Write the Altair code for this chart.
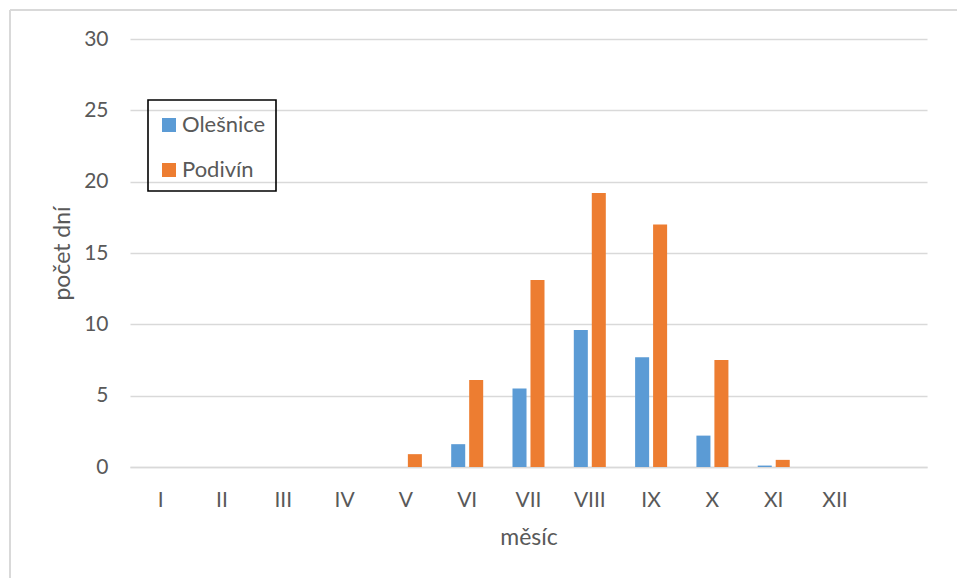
import altair as alt
import pandas as pd

# Monthly counts of days for two stations
months = ["I", "II", "III", "IV", "V", "VI", "VII", "VIII", "IX", "X", "XI", "XII"]
olesnice = [0, 0, 0, 0, 0, 1.6, 5.5, 9.6, 7.7, 2.2, 0.1, 0]
podivin = [0, 0, 0, 0, 0.9, 6.1, 13.1, 19.2, 17.0, 7.5, 0.5, 0]
stations = ["Olešnice", "Podivín"]
colors = ["#5B9BD5", "#ED7D31"]
y_ticks = [0, 5, 10, 15, 20, 25, 30]

rows = []
for m, a, b in zip(months, olesnice, podivin):
    rows.append({"month": m, "station": stations[0], "days": a})
    rows.append({"month": m, "station": stations[1], "days": b})
df = pd.DataFrame(rows)

FONT = "Lato"
TXT = "#595959"
GRID = "#d9d9d9"

W, H = 797, 428
PAD_L, PAD_T = 130, 39

bars = alt.Chart(df).mark_bar().encode(
    x=alt.X(
        "month:N",
        # one spare empty slot after December
        scale=alt.Scale(domain=months + [" "], paddingInner=0.478, paddingOuter=0.239),
        sort=None,
        axis=alt.Axis(
            title="měsíc",
            labelAngle=0,
            labelPadding=22,
            ticks=False,
            domainColor=GRID,
            domainWidth=1.5,
            titlePadding=16,
            titleFontSize=23,
        ),
    ),
    xOffset=alt.XOffset(
        "station:N",
        scale=alt.Scale(domain=stations, paddingInner=0.22, paddingOuter=0),
    ),
    y=alt.Y(
        "days:Q",
        scale=alt.Scale(domain=[0, 30], nice=False),
        axis=alt.Axis(
            title="počet dní",
            values=y_ticks,
            domain=False,
            ticks=False,
            labelPadding=22,
            gridColor=GRID,
            gridWidth=1.4,
            titlePadding=9,
            titleFontSize=23,
        ),
    ),
    color=alt.Color(
        "station:N",
        scale=alt.Scale(domain=stations, range=colors),
        legend=alt.Legend(
            # a blank, tiny title adds a little room above the entries
            title=" ",
            titleFontSize=2,
            titlePadding=2,
            orient="none",
            legendX=18,
            legendY=61,
            symbolType="square",
            symbolSize=196,
            symbolStrokeWidth=0,
            labelOffset=2,
            rowPadding=23,
            padding=10,
            strokeColor="black",
            labelFontSize=22,
            labelFont=FONT,
            labelColor=TXT,
        ),
    ),
)

# light frame along the top and left edges of the figure
frame_data = alt.Data(values=[{"k": 0}])
frame_left = alt.Chart(frame_data).mark_rule(color=GRID, strokeWidth=2).encode(
    x=alt.value(-120), y=alt.value(-29), y2=alt.value(H + 120)
)
frame_top = alt.Chart(frame_data).mark_rule(color=GRID, strokeWidth=2).encode(
    x=alt.value(-120), x2=alt.value(W + 40), y=alt.value(-29)
)

chart = (
    alt.layer(frame_left, frame_top, bars)
    .properties(
        width=W,
        height=H,
        padding={"left": PAD_L, "top": PAD_T, "right": 957 - PAD_L - W, "bottom": 578 - PAD_T - H},
        autosize=alt.AutoSizeParams(type="none"),
        background="white",
    )
    .configure_view(stroke=None)
    .configure_axis(
        labelFont=FONT,
        labelFontSize=21,
        labelColor=TXT,
        titleFont=FONT,
        titleColor=TXT,
        titleFontWeight="normal",
    )
    .configure_legend(strokeWidth=1.6)
)

chart.save("out.html", embed_options={"renderer": "svg", "actions": False})
